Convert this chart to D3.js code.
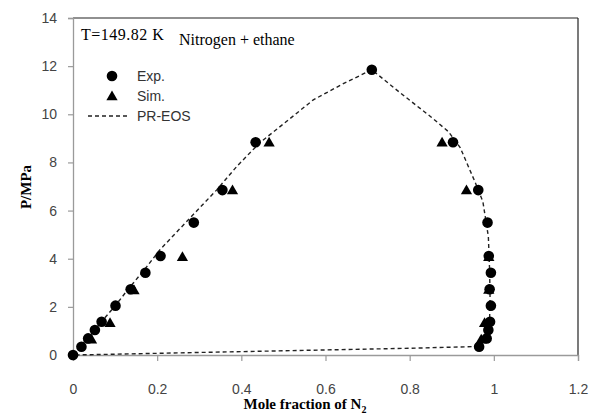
<!DOCTYPE html>
<html>
<head>
<meta charset="utf-8">
<script src="https://cdn.jsdelivr.net/npm/d3@7"></script>
<style>
  html, body { margin: 0; padding: 0; background: #fff; }
  svg { display: block; }
</style>
</head>
<body>
<svg id="chart" width="592" height="414"></svg>
<script>
// ---- data ----
const expX = [0.0, 0.02, 0.036, 0.052, 0.068, 0.101, 0.137, 0.172, 0.208, 0.287, 0.355, 0.434, 0.71,
              0.903, 0.963, 0.985, 0.988, 0.993, 0.99, 0.993, 0.991, 0.987, 0.983, 0.965];
const expP = [0.0, 0.34, 0.69, 1.04, 1.38, 2.05, 2.73, 3.42, 4.11, 5.50, 6.85, 8.84, 11.85,
              8.84, 6.85, 5.50, 4.11, 3.42, 2.73, 2.05, 1.38, 1.04, 0.69, 0.34];
const simX = [0.044, 0.088, 0.145, 0.26, 0.379, 0.466,
              0.877, 0.935, 0.988, 0.988, 0.978, 0.970];
const simP = [0.65, 1.34, 2.70, 4.08, 6.85, 8.84,
              8.84, 6.85, 4.08, 2.72, 1.34, 0.65];
const eosX = [0, 0.05, 0.1, 0.131, 0.17, 0.206, 0.266, 0.341, 0.39, 0.444, 0.5, 0.571, 0.64, 0.71,
              0.777, 0.85, 0.892, 0.92, 0.955, 0.974, 0.987, 0.99, 0.991, 0.99, 0.985, 0.975, 0.955,
              0.8, 0.6, 0.4, 0.2, 0.06, 0];
const eosP = [0, 1.02, 2.04, 2.73, 3.55, 4.36, 5.47, 6.85, 7.85, 8.82, 9.6, 10.6, 11.25, 11.85,
              10.9, 9.9, 9.28, 8.62, 7.2, 6.37, 4.92, 3.5, 2.4, 1.5, 0.9, 0.55, 0.35,
              0.28, 0.21, 0.14, 0.07, 0.02, 0];
const xTicks = [0, 0.2, 0.4, 0.6, 0.8, 1, 1.2];
const yTicks = [0, 2, 4, 6, 8, 10, 12, 14];
const legendLabels = ["Exp.", "Sim.", "PR-EOS"];

// ---- layout ----
const svg = d3.select("#chart");
const L = 73, R = 578, T = 18, B = 355;
const x = d3.scaleLinear().domain([0, 1.2]).range([L, R]);
const y = d3.scaleLinear().domain([0, 14]).range([B, T]);
const axisGrey = "#9a9a9a";
const labelFont = "'Liberation Sans', Arial, sans-serif";
const serif = "'Liberation Serif', 'Times New Roman', serif";

// frame: top and right borders
svg.append("line").attr("x1", L).attr("x2", R).attr("y1", T).attr("y2", T)
  .attr("stroke", "#222").attr("stroke-width", 1.2);
svg.append("line").attr("x1", R).attr("x2", R).attr("y1", T).attr("y2", B)
  .attr("stroke", "#222").attr("stroke-width", 1.2);

// axes
const xAxis = svg.append("g").attr("transform", `translate(0,${B})`)
  .call(d3.axisBottom(x).tickValues(xTicks).tickSize(6).tickPadding(23)
        .tickFormat(d => d3.format("~g")(d)));
const yAxis = svg.append("g").attr("transform", `translate(${L},0)`)
  .call(d3.axisLeft(y).tickValues(yTicks).tickSize(5).tickPadding(11)
        .tickFormat(d => d3.format("~g")(d)));
[xAxis, yAxis].forEach(g => {
  g.select(".domain").attr("stroke", axisGrey).attr("stroke-width", 1.3);
  g.selectAll(".tick line").attr("stroke", axisGrey).attr("stroke-width", 1.2);
  g.selectAll(".tick text").attr("fill", "#444").style("font-family", labelFont).style("font-size", "14px");
});

// PR-EOS line
const eosData = eosX.map((v, i) => [v, eosP[i]]);
svg.append("path").datum(eosData)
  .attr("fill", "none").attr("stroke", "#222").attr("stroke-width", 1.4)
  .attr("stroke-dasharray", "4,3")
  .attr("d", d3.line().x(d => x(d[0])).y(d => y(d[1])).curve(d3.curveLinear));

// Sim triangles
const tri = d3.symbol().type(d3.symbolTriangle).size(55);
svg.append("g").selectAll("path").data(simX.map((v, i) => [v, simP[i]]))
  .join("path")
  .attr("d", tri)
  .attr("transform", d => `translate(${x(d[0])},${y(d[1]) + 1})`)
  .attr("fill", "#000");

// Exp circles
svg.append("g").selectAll("circle").data(expX.map((v, i) => [v, expP[i]]))
  .join("circle")
  .attr("cx", d => x(d[0])).attr("cy", d => y(d[1])).attr("r", 5.3)
  .attr("fill", "#000");

// annotation texts
svg.append("text").attr("x", 81).attr("y", 40).text("T=149.82 K")
  .style("font-family", serif).style("font-size", "16px").style("letter-spacing", "0.5px").attr("fill", "#000");
svg.append("text").attr("x", 179).attr("y", 45).text("Nitrogen + ethane")
  .style("font-family", serif).style("font-size", "16px").attr("fill", "#000");

// legend
const lgY = [76, 96, 116];
svg.append("circle").attr("cx", 112).attr("cy", lgY[0]).attr("r", 5.3).attr("fill", "#000");
svg.append("path").attr("d", tri).attr("transform", `translate(112,${lgY[1] + 1})`).attr("fill", "#000");
svg.append("line").attr("x1", 88).attr("x2", 129).attr("y1", lgY[2]).attr("y2", lgY[2])
  .attr("stroke", "#222").attr("stroke-width", 1.4).attr("stroke-dasharray", "4,3");
legendLabels.forEach((t, i) => {
  svg.append("text").attr("x", 137).attr("y", lgY[i] + 5).text(t)
    .style("font-family", labelFont).style("font-size", "14px").attr("fill", "#333");
});

// axis titles
const xt = svg.append("text").attr("x", 305).attr("y", 409).attr("text-anchor", "middle")
  .style("font-family", serif).style("font-size", "15px").style("font-weight", "bold").attr("fill", "#000");
xt.append("tspan").text("Mole fraction of N");
xt.append("tspan").text("2").attr("dy", 4).style("font-size", "10px");

svg.append("text").attr("transform", "translate(31,187) rotate(-90)").attr("text-anchor", "middle")
  .text("P/MPa")
  .style("font-family", serif).style("font-size", "15px").style("font-weight", "bold").attr("fill", "#000");
</script>
</body>
</html>
